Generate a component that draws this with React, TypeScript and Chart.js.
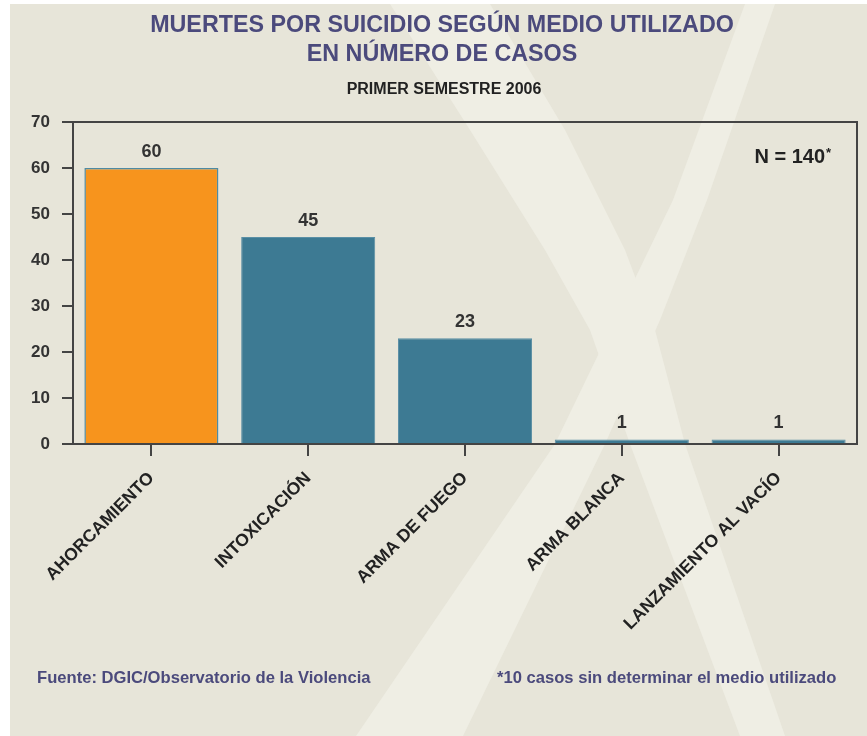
import { useEffect, useRef } from 'react';
import { Chart, registerables } from 'chart.js';

Chart.register(...registerables);

const categories = ['AHORCAMIENTO', 'INTOXICACIÓN', 'ARMA DE FUEGO', 'ARMA BLANCA', 'LANZAMIENTO AL VACÍO'];
const casos = [60, 45, 23, 1, 1];
const yMax = 70;
const yStep = 10;
const titleLines = ['MUERTES POR SUICIDIO SEGÚN MEDIO UTILIZADO', 'EN NÚMERO DE CASOS'];
const subtitle = 'PRIMER SEMESTRE 2006';
const totalLabel = 'N = 140';
const totalMark = '*';
const sourceText = 'Fuente: DGIC/Observatorio de la Violencia';
const noteText = '*10 casos sin determinar el medio utilizado';

const ORANGE = '#f7941d';
const TEAL = '#3d7a93';
const FONT = '"Liberation Sans", Arial, Helvetica, sans-serif';
const W = 857;
const H = 732;
const OX = 10;
const OY = 4;

// decorative light "X" watermark bands (page coordinates)
const BAND_A = [
  [390, 4], [470, 130], [545, 250], [590, 330], [630, 444], [740, 736],
  [785, 736], [685, 444], [655, 330], [625, 250], [565, 130], [490, 4],
];
const BAND_B = [
  [745, 4], [673, 200], [615, 320], [555, 444], [356, 736],
  [463, 736], [605, 444], [660, 320], [707, 200], [775, 4],
];

const decor = {
  id: 'decor',
  beforeDraw(chart: any) {
    const ctx = chart.ctx;
    ctx.save();
    ctx.fillStyle = '#e7e5d9';
    ctx.fillRect(0, 0, chart.width, chart.height);
    ctx.fillStyle = '#efeee4';
    for (const band of [BAND_A, BAND_B]) {
      ctx.beginPath();
      band.forEach(([x, y], i) => {
        if (i === 0) ctx.moveTo(x - OX, y - OY);
        else ctx.lineTo(x - OX, y - OY);
      });
      ctx.closePath();
      ctx.fill();
    }
    ctx.restore();
  },
  afterDatasetsDraw(chart: any) {
    const ctx = chart.ctx;
    const meta = chart.getDatasetMeta(0);
    ctx.save();
    ctx.font = `bold 18px ${FONT}`;
    ctx.fillStyle = '#333';
    ctx.textAlign = 'center';
    ctx.textBaseline = 'alphabetic';
    meta.data.forEach((el: any, i: number) => {
      ctx.fillText(String(casos[i]), el.x, el.y - 11);
    });
    ctx.restore();
  },
  afterDraw(chart: any) {
    const ctx = chart.ctx;
    const a = chart.chartArea;
    ctx.save();
    // box top & right
    ctx.strokeStyle = '#444';
    ctx.lineWidth = 2;
    ctx.beginPath();
    ctx.moveTo(a.left, a.top);
    ctx.lineTo(a.right, a.top);
    ctx.lineTo(a.right, a.bottom);
    ctx.stroke();

    // titles
    ctx.textAlign = 'center';
    ctx.textBaseline = 'alphabetic';
    ctx.fillStyle = '#4b4a7c';
    ctx.font = `bold 23.3px ${FONT}`;
    ctx.fillText(titleLines[0], 432, 28);
    ctx.fillText(titleLines[1], 432, 57);
    ctx.fillStyle = '#222';
    ctx.font = `bold 16px ${FONT}`;
    ctx.fillText(subtitle, 434, 90);

    // N = 140*
    ctx.textAlign = 'right';
    ctx.fillStyle = '#222';
    ctx.font = `bold 20px ${FONT}`;
    ctx.fillText(totalLabel, 815, 159);
    ctx.textAlign = 'left';
    ctx.font = `bold 13px ${FONT}`;
    ctx.fillText(totalMark, 816, 153);

    // footer
    ctx.fillStyle = '#4b4a7c';
    ctx.font = `bold 16.6px ${FONT}`;
    ctx.textAlign = 'left';
    ctx.fillText(sourceText, 27, 679);
    ctx.fillText(noteText, 487, 679);
    ctx.restore();
  },
};

export default function App() {
  const ref = useRef<HTMLCanvasElement | null>(null);

  useEffect(() => {
    if (!ref.current) return;
    Chart.defaults.font.family = FONT;
    const chart = new Chart(ref.current, {
      type: 'bar',
      data: {
        labels: categories,
        datasets: [
          {
            data: casos,
            backgroundColor: casos.map((_, i) => (i === 0 ? ORANGE : TEAL)),
            borderColor: casos.map((_, i) => (i === 0 ? '#4f8ba3' : '#5a8fa5')),
            borderWidth: casos.map((_, i) => (i === 0 ? 1.5 : 1)),
            barPercentage: 0.855,
            categoryPercentage: 1,
          },
        ],
      },
      options: {
        animation: false,
        responsive: false,
        devicePixelRatio: 1,
        layout: { padding: { left: 0, right: 10, top: 118, bottom: 92 } },
        plugins: {
          legend: { display: false },
          tooltip: { enabled: false },
          title: { display: false },
        },
        scales: {
          x: {
            afterFit: (s: any) => { s.height = 200; },
            grid: {
              offset: false,
              drawOnChartArea: false,
              drawTicks: true,
              tickLength: 12,
              color: '#444',
              lineWidth: 2,
            },
            border: { display: true, color: '#444', width: 2 },
            ticks: {
              autoSkip: false,
              minRotation: 45,
              maxRotation: 45,
              padding: 12,
              color: '#222',
              font: { size: 17.5, weight: 'bold', family: FONT },
            },
          },
          y: {
            min: 0,
            max: yMax,
            afterFit: (s: any) => { s.width = 63; },
            grid: {
              drawOnChartArea: false,
              drawTicks: true,
              tickLength: 11,
              color: '#444',
              lineWidth: 2,
            },
            border: { display: true, color: '#444', width: 2 },
            ticks: {
              stepSize: yStep,
              padding: 12,
              color: '#333',
              font: { size: 17, weight: 'bold', family: FONT },
            },
          },
        },
      },
      plugins: [decor],
    });
    return () => chart.destroy();
  }, []);

  return (
    <div style={{ position: 'absolute', left: OX, top: OY, width: W, height: H }}>
      <canvas ref={ref} width={W} height={H} style={{ width: W, height: H, display: 'block' }} />
    </div>
  );
}
